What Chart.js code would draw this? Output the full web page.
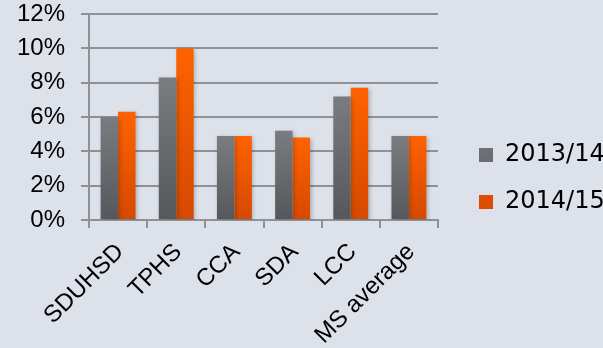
<!DOCTYPE html>
<html><head><meta charset="utf-8">
<script src="https://cdn.jsdelivr.net/npm/chart.js@4"></script>
<style>
html,body{margin:0;padding:0;background:#dce1ea;overflow:hidden}
#wrap{width:603px;height:348px;position:relative}
</style></head><body>
<div id="wrap"><canvas id="c"></canvas></div>
<script>
const categories = ['SDUHSD', 'TPHS', 'CCA', 'SDA', 'LCC', 'MS average'];
const series2013 = [6.0, 8.3, 4.9, 5.2, 7.2, 4.9];
const series2014 = [6.3, 10.0, 4.9, 4.8, 7.7, 4.9];
const seriesLabels = ['2013/14', '2014/15'];
const yTickValues = [0, 2, 4, 6, 8, 10, 12];

const grayTop = '#7a7c80', grayMid = '#686a6e', grayBottom = '#55575b';
const orangeTop = '#ff6200', orangeMid = '#ec5500', orangeBottom = '#d54900';
const gridColor = '#8e9196';

function barGradient(top, mid, bottom) {
  return function (ctx) {
    const chart = ctx.chart;
    if (ctx.type !== 'data') return mid;
    if (!chart.chartArea) return top;
    const y = chart.scales.y;
    const y0 = y.getPixelForValue(0);
    const y1 = y.getPixelForValue(ctx.parsed.y);
    if (!isFinite(y0) || !isFinite(y1) || y0 === y1) return top;
    const g = chart.ctx.createLinearGradient(0, y1, 0, y0);
    g.addColorStop(0, top);
    g.addColorStop(1, bottom);
    return g;
  };
}

const barShadow = {
  id: 'barShadow',
  beforeDatasetsDraw(chart) {
    const c = chart.ctx;
    c.save();
    c.shadowColor = 'rgba(0,0,0,0.22)';
    c.shadowBlur = 4;
    c.shadowOffsetX = 1.5;
    c.shadowOffsetY = 1.5;
  },
  afterDatasetsDraw(chart) { chart.ctx.restore(); }
};

new Chart(document.getElementById('c'), {
  type: 'bar',
  data: {
    labels: categories,
    datasets: [
      { label: seriesLabels[0], data: series2013, yAxisID: 'y', backgroundColor: barGradient(grayTop, grayMid, grayBottom), borderWidth: 0 },
      { label: seriesLabels[1], data: series2014, yAxisID: 'y', backgroundColor: barGradient(orangeTop, orangeMid, orangeBottom), borderWidth: 0 }
    ]
  },
  plugins: [barShadow],
  options: {
    responsive: true,
    maintainAspectRatio: false,
    animation: false,
    devicePixelRatio: 1,
    layout: { padding: { left: 17, top: 1, right: 0, bottom: -8 } },
    datasets: { bar: { categoryPercentage: 0.6, barPercentage: 1.0 } },
    plugins: {
      tooltip: { enabled: false },
      legend: {
        position: 'right',
        align: 'center',
        maxWidth: 147,
        labels: {
          boxWidth: 14,
          boxHeight: 14,
          padding: 23,
          color: '#000',
          font: { family: '"DejaVu Sans"', size: 24 }
        }
      }
    },
    scales: {
      x: {
        offset: true,
        grid: { display: true, drawOnChartArea: false, drawTicks: true, tickLength: 8, offset: true, color: gridColor, lineWidth: 2 },
        border: { display: true, color: gridColor, width: 2 },
        ticks: { minRotation: 45, maxRotation: 45, autoSkip: false, padding: 10, labelOffset: 2, color: '#000', font: { family: '"Liberation Sans"', size: 24 } },
        afterFit: (s) => { s.paddingLeft = 0; s.paddingRight = 0; s.height = 136; }
      },
      y: {
        min: 0,
        max: 12,
        afterBuildTicks: (s) => { s.ticks = yTickValues.map(v => ({ value: v })); },
        grid: { color: gridColor, lineWidth: 2, drawTicks: true, tickLength: 8 },
        border: { display: true, color: gridColor, width: 2 },
        ticks: { autoSkip: false, padding: 16, color: '#000', font: { family: '"Liberation Sans"', size: 24 }, callback: (v) => v + '%' },
        afterFit: (s) => { s.width = 72; s.paddingTop = 14; s.paddingBottom = 0; }
      },
      pad: {
        type: 'linear',
        position: 'right',
        display: true,
        grid: { display: false },
        border: { display: false },
        ticks: { display: false },
        afterFit: (s) => { s.width = 18; }
      }
    }
  }
});
</script>
</body></html>
